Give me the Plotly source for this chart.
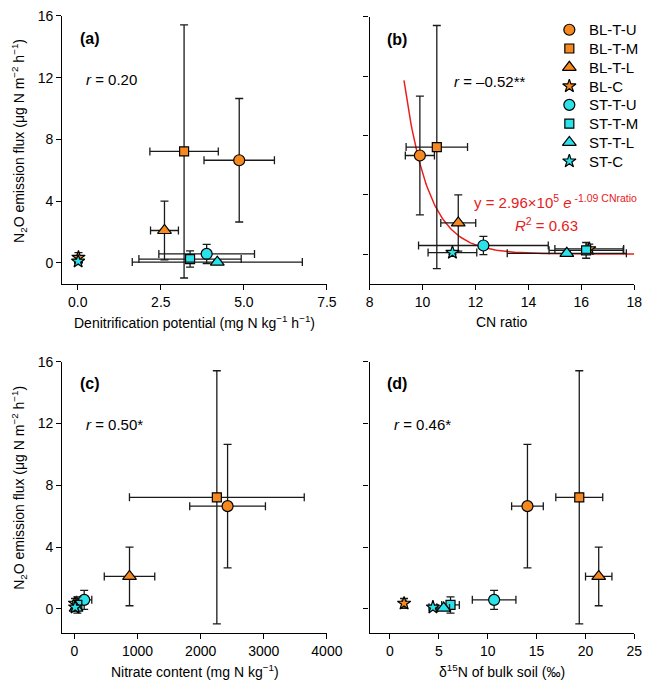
import numpy as np
import plotly.graph_objects as go

# ---------------- data ----------------
groups = ["BL-T-U", "BL-T-M", "BL-T-L", "BL-C", "ST-T-U", "ST-T-M", "ST-T-L", "ST-C"]
symbols = ["circle", "square", "triangle-up", "star", "circle", "square", "triangle-up", "star"]
sizes = [11, 9, 12, 10, 11, 9, 12, 10]
colors = ["#F5891F"] * 4 + ["#2BE2EA"] * 4

n2o_flux = [6.65, 7.22, 2.10, 0.35, 0.58, 0.25, 0.05, 0.10]
n2o_err = [4.00, 8.20, 1.90, 0.32, 0.62, 0.53, 0.12, 0.12]

denit = [4.86, 3.20, 2.61, 0.02, 3.88, 3.38, 4.20, 0.01]
denit_err = [1.06, 1.03, 0.42, 0.03, 1.44, 1.54, 2.56, 0.03]

cn_ratio = [9.90, 10.54, 11.35, 16.30, 12.30, 16.18, 15.45, 11.13]
cn_err = [0.55, 1.16, 0.66, 1.30, 2.45, 1.40, 2.25, 0.92]

nitrate = [2426, 2256, 872, 8, 154, 45, 25, 10]
nitrate_err = [600, 1385, 400, 10, 120, 40, 30, 10]

d15n = [14.07, 19.37, 21.36, 1.45, 10.66, 6.20, 5.50, 4.40]
d15n_err = [1.62, 2.40, 1.35, 0.20, 2.23, 0.90, 0.60, 0.40]

fit_a, fit_b = 2.96e5, -1.09
fit_x_range = [9.3, 18.0]

r_texts = ["<i>r</i> = 0.20", "<i>r</i> = \u20130.52**", "<i>r</i> = 0.50*", "<i>r</i> = 0.46*"]
panel_tags = ["(a)", "(b)", "(c)", "(d)"]
x_titles = ["Denitrification potential (mg N kg<sup>\u22121</sup> h<sup>\u22121</sup>)",
            "CN ratio",
            "Nitrate content (mg N kg<sup>\u22121</sup>)",
            "\u03b4<sup>15</sup>N of bulk soil (\u2030)"]
y_title = "N<sub>2</sub>O emission flux (\u03bcg N m<sup>\u22122</sup> h<sup>\u22121</sup>)"

# ---------------- layout geometry (pixels) ----------------
W, H = 660, 683
FONT = "Liberation Sans, Arial, sans-serif"
RED = "#E8201C"

def px_x(p):
    return p / W

def px_y(p):
    return 1 - p / H

panels = [
    dict(x=(60, 333), y=(8, 279), xr=[-0.47, 7.5], yr=[-1.35, 16], xt=[0, 2.5, 5, 7.5], xfmt=".1f", ylab=True),
    dict(x=(377, 650), y=(9, 279), xr=[8, 18], yr=[-2, 16], xt=[8, 10, 12, 14, 16, 18], xfmt="", ylab=False),
    dict(x=(60, 333), y=(358, 632), xr=[-195, 4000], yr=[-1.54, 16], xt=[0, 1000, 2000, 3000, 4000], xfmt="", ylab=True),
    dict(x=(377, 650), y=(358, 632), xr=[-2.08, 25], yr=[-1.54, 16], xt=[0, 5, 10, 15, 20, 25], xfmt="", ylab=False),
]
xdata = [(denit, denit_err), (cn_ratio, cn_err), (nitrate, nitrate_err), (d15n, d15n_err)]

fig = go.Figure()
layout = dict(
    width=W, height=H, margin=dict(l=0, r=0, t=0, b=0),
    paper_bgcolor="white", plot_bgcolor="rgba(0,0,0,0)",
    font=dict(family=FONT, size=14, color="black"),
    showlegend=False,
)

annotations = []
for i, p in enumerate(panels):
    ax = "" if i == 0 else str(i + 1)
    xa, ya = "xaxis" + ax, "yaxis" + ax
    common = dict(showline=True, linecolor="black", linewidth=1.3, ticks="outside",
                  ticklen=5, tickwidth=1.3, tickcolor="black", showgrid=False, zeroline=False,
                  tickfont=dict(family=FONT, size=14, color="black"))
    layout[xa] = dict(domain=[px_x(p["x"][0]), px_x(p["x"][1])], range=p["xr"],
                      anchor="y" + ax, tickmode="array", tickvals=p["xt"],
                      tickformat=p["xfmt"] if p["xfmt"] else None, **common)
    layout[ya] = dict(domain=[px_y(p["y"][1]), px_y(p["y"][0])], range=p["yr"],
                      anchor="x" + ax, tickmode="array", tickvals=[0, 4, 8, 12, 16],
                      showticklabels=p["ylab"], **common)

    xv, xe = xdata[i]
    if i == 1:
        xs = np.linspace(fit_x_range[0], fit_x_range[1], 200)
        fig.add_trace(go.Scatter(x=xs, y=fit_a * np.exp(fit_b * xs), mode="lines",
                                 line=dict(color=RED, width=1.5),
                                 xaxis="x2", yaxis="y2", hoverinfo="skip"))
    for g in range(len(groups)):
        fig.add_trace(go.Scatter(
            x=[xv[g]], y=[n2o_flux[g]], mode="markers", name=groups[g],
            marker=dict(symbol=symbols[g], size=sizes[g], color=colors[g],
                        line=dict(color="black", width=1.2)),
            error_x=dict(type="data", array=[xe[g]], color="#1a1a1a", thickness=1.3, width=4),
            error_y=dict(type="data", array=[n2o_err[g]], color="#1a1a1a", thickness=1.3, width=4),
            xaxis="x" + ax, yaxis="y" + ax,
        ))

    # panel tag and r text
    tag_y = p["y"][0] + 23 if i < 2 else p["y"][0] + 22
    annotations.append(dict(x=px_x(p["x"][0] + 16), y=px_y(tag_y), xref="paper", yref="paper",
                            text="<b>%s</b>" % panel_tags[i], showarrow=False,
                            xanchor="left", yanchor="middle",
                            font=dict(family=FONT, size=16, color="black")))
    rx = [82, 462, 82, 400][i]
    ry = [72, 74, 421, 421][i]
    annotations.append(dict(x=px_x(rx), y=px_y(ry), xref="paper", yref="paper",
                            text=r_texts[i], showarrow=False, xanchor="left", yanchor="middle",
                            font=dict(family=FONT, size=15, color="black")))
    xt_y = 318 if i < 2 else 671
    annotations.append(dict(x=px_x((p["x"][0] + p["x"][1]) / 2), y=px_y(xt_y),
                            xref="paper", yref="paper", text=x_titles[i], showarrow=False,
                            xanchor="center", yanchor="middle",
                            font=dict(family=FONT, size=14, color="black")))

# y titles
for yc in (135, 486):
    annotations.append(dict(x=px_x(16), y=px_y(yc), xref="paper", yref="paper",
                            text=y_title, showarrow=False, textangle=-90,
                            xanchor="center", yanchor="middle",
                            font=dict(family=FONT, size=14, color="black")))

# fit equation
annotations.append(dict(x=px_x(483), y=px_y(196), xref="paper", yref="paper",
                        text="y = 2.96\u00d710<sup>5</sup> <i>e</i><sup> -1.09 CNratio</sup>",
                        showarrow=False, xanchor="left", yanchor="middle",
                        font=dict(family=FONT, size=15, color=RED)))
annotations.append(dict(x=px_x(525), y=px_y(219), xref="paper", yref="paper",
                        text="<i>R</i><sup>2</sup> = 0.63",
                        showarrow=False, xanchor="left", yanchor="middle",
                        font=dict(family=FONT, size=15, color=RED)))

# ---------------- legend (drawn in its own small axis, one row per group) ----------------
row_top, row_h, n = 12.5, 19, len(groups)
layout["xaxis5"] = dict(domain=[px_x(573), px_x(593)], range=[-1, 1], visible=False,
                        anchor="y5", fixedrange=True)
layout["yaxis5"] = dict(domain=[px_y(row_top + row_h * n), px_y(row_top)],
                        range=[n - 0.5, -0.5], visible=False, anchor="x5", fixedrange=True)
for g in range(n):
    fig.add_trace(go.Scatter(
        x=[0], y=[g], mode="markers", xaxis="x5", yaxis="y5", hoverinfo="skip",
        marker=dict(symbol=symbols[g], size=sizes[g], color=colors[g],
                    line=dict(color="black", width=1.2))))
    annotations.append(dict(x=px_x(601), y=g, xref="paper", yref="y5", text=groups[g],
                            showarrow=False, xanchor="left", yanchor="middle",
                            font=dict(family=FONT, size=15, color="black")))

layout["annotations"] = annotations
fig.update_layout(**layout)
fig.write_html("out.html", config={"displayModeBar": False},
               post_script="document.body.style.margin='0';")
